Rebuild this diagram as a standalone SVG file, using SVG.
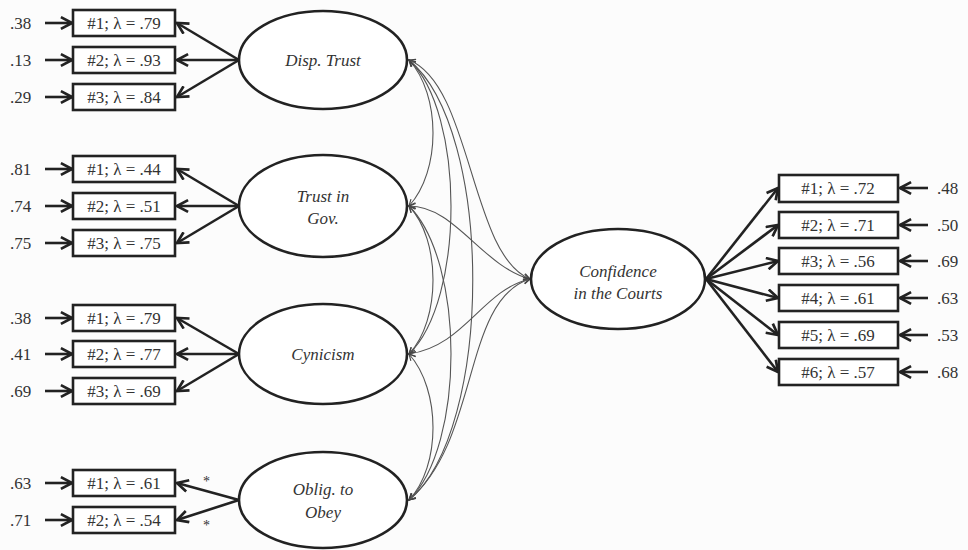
<svg xmlns="http://www.w3.org/2000/svg" width="968" height="550" viewBox="0 0 968 550">
<style>
.bg{fill:#fcfcfc}
.lat{fill:#fff;stroke:#222;stroke-width:2.6}
.box{fill:#fff;stroke:#222;stroke-width:2.6}
text{font-family:'Liberation Serif','Times New Roman','DejaVu Serif',serif}
.t{font-size:17px;fill:#333;text-anchor:middle}
.it{font-style:italic}
.e{font-size:17px;fill:#333}
.ar{stroke:#222;stroke-width:2.6;fill:none;marker-end:url(#ah)}
.cv{stroke:#555;stroke-width:1.1;fill:none;marker-start:url(#sh);marker-end:url(#sh)}
</style>
<defs>
<marker id="ah" viewBox="0 0 12 12" refX="10.5" refY="6" markerWidth="14" markerHeight="14" markerUnits="userSpaceOnUse" orient="auto">
<path d="M1,1 L10.5,6 L1,11" fill="none" stroke="#222" stroke-width="2.3"/>
</marker>
<marker id="sh" viewBox="0 0 10 10" refX="9" refY="5" markerWidth="8" markerHeight="8" markerUnits="userSpaceOnUse" orient="auto-start-reverse">
<path d="M1,1 L9,5 L1,9" fill="none" stroke="#444" stroke-width="1.4"/>
</marker>
</defs>
<rect class="bg" x="0" y="0" width="968" height="550"/>

<g id="connectors">
<path class="cv" d="M409,60 C441,95 441,171 409,206"/>
<path class="cv" d="M409,60 C465,112 465,300 409,354"/>
<path class="cv" d="M409,60 C494,130 494,430 409,500"/>
<path class="cv" d="M409,60 C472,85 470,255 530,279"/>
<path class="cv" d="M409,206 C441,240 441,320 409,354"/>
<path class="cv" d="M409,206 C465,262 465,446 409,500"/>
<path class="cv" d="M409,206 C455,206 482,266 530,279"/>
<path class="cv" d="M409,354 C465,346 482,290 530,279"/>
<path class="cv" d="M409,354 C441,390 441,466 409,500"/>
<path class="cv" d="M409,500 C480,440 462,300 530,279"/>
<line class="ar" x1="239" y1="60" x2="177" y2="23"/>
<line class="ar" x1="239" y1="60" x2="177" y2="60"/>
<line class="ar" x1="239" y1="60" x2="177" y2="97"/>
<line class="ar" x1="239" y1="206" x2="177" y2="169"/>
<line class="ar" x1="239" y1="206" x2="177" y2="206"/>
<line class="ar" x1="239" y1="206" x2="177" y2="243"/>
<line class="ar" x1="239" y1="354" x2="177" y2="318"/>
<line class="ar" x1="239" y1="354" x2="177" y2="354"/>
<line class="ar" x1="239" y1="354" x2="177" y2="391"/>
<line class="ar" x1="239" y1="500" x2="177" y2="483"/>
<line class="ar" x1="239" y1="500" x2="177" y2="520"/>
<line class="ar" x1="45" y1="23" x2="72" y2="23"/>
<line class="ar" x1="45" y1="60" x2="72" y2="60"/>
<line class="ar" x1="45" y1="97" x2="72" y2="97"/>
<line class="ar" x1="45" y1="169" x2="72" y2="169"/>
<line class="ar" x1="45" y1="206" x2="72" y2="206"/>
<line class="ar" x1="45" y1="243" x2="72" y2="243"/>
<line class="ar" x1="45" y1="318" x2="72" y2="318"/>
<line class="ar" x1="45" y1="354" x2="72" y2="354"/>
<line class="ar" x1="45" y1="391" x2="72" y2="391"/>
<line class="ar" x1="45" y1="483" x2="72" y2="483"/>
<line class="ar" x1="45" y1="520" x2="72" y2="520"/>
<line class="ar" x1="706" y1="279" x2="778" y2="188"/>
<line class="ar" x1="706" y1="279" x2="778" y2="225"/>
<line class="ar" x1="706" y1="279" x2="778" y2="261"/>
<line class="ar" x1="706" y1="279" x2="778" y2="298"/>
<line class="ar" x1="706" y1="279" x2="778" y2="335"/>
<line class="ar" x1="706" y1="279" x2="778" y2="372"/>
<line class="ar" x1="928" y1="188" x2="900" y2="188"/>
<line class="ar" x1="928" y1="225" x2="900" y2="225"/>
<line class="ar" x1="928" y1="261" x2="900" y2="261"/>
<line class="ar" x1="928" y1="298" x2="900" y2="298"/>
<line class="ar" x1="928" y1="335" x2="900" y2="335"/>
<line class="ar" x1="928" y1="372" x2="900" y2="372"/>
</g>

<g id="disp-trust">
<ellipse class="lat" cx="323" cy="60" rx="84" ry="49"/>
<text class="t it" x="323" y="66">Disp. Trust</text>
</g>
<g id="trust-gov">
<ellipse class="lat" cx="323" cy="206" rx="84" ry="51"/>
<text class="t it" x="323" y="202">Trust in</text>
<text class="t it" x="323" y="224">Gov.</text>
</g>
<g id="cynicism">
<ellipse class="lat" cx="323" cy="354" rx="84" ry="50"/>
<text class="t it" x="323" y="360">Cynicism</text>
</g>
<g id="oblig">
<ellipse class="lat" cx="323" cy="500" rx="84" ry="48"/>
<text class="t it" x="323" y="495">Oblig. to</text>
<text class="t it" x="323" y="518">Obey</text>
</g>
<g id="confidence">
<ellipse class="lat" cx="618" cy="279" rx="87" ry="50"/>
<text class="t it" x="618" y="277">Confidence</text>
<text class="t it" x="618" y="299">in the Courts</text>
</g>

<g id="dt-items">
<rect class="box" x="73" y="10" width="102" height="26"/><text class="t" x="124" y="29">#1; λ = .79</text>
<rect class="box" x="73" y="47" width="102" height="26"/><text class="t" x="124" y="66">#2; λ = .93</text>
<rect class="box" x="73" y="84" width="102" height="26"/><text class="t" x="124" y="103">#3; λ = .84</text>
<text class="e" x="10" y="29">.38</text><text class="e" x="10" y="66">.13</text><text class="e" x="10" y="103">.29</text>
</g>
<g id="tg-items">
<rect class="box" x="73" y="156" width="102" height="26"/><text class="t" x="124" y="175">#1; λ = .44</text>
<rect class="box" x="73" y="193" width="102" height="26"/><text class="t" x="124" y="212">#2; λ = .51</text>
<rect class="box" x="73" y="230" width="102" height="26"/><text class="t" x="124" y="249">#3; λ = .75</text>
<text class="e" x="10" y="175">.81</text><text class="e" x="10" y="212">.74</text><text class="e" x="10" y="249">.75</text>
</g>
<g id="cy-items">
<rect class="box" x="73" y="305" width="102" height="26"/><text class="t" x="124" y="324">#1; λ = .79</text>
<rect class="box" x="73" y="341" width="102" height="26"/><text class="t" x="124" y="360">#2; λ = .77</text>
<rect class="box" x="73" y="378" width="102" height="26"/><text class="t" x="124" y="397">#3; λ = .69</text>
<text class="e" x="10" y="324">.38</text><text class="e" x="10" y="360">.41</text><text class="e" x="10" y="397">.69</text>
</g>
<g id="ob-items">
<rect class="box" x="73" y="470" width="102" height="26"/><text class="t" x="124" y="489">#1; λ = .61</text>
<rect class="box" x="73" y="507" width="102" height="26"/><text class="t" x="124" y="526">#2; λ = .54</text>
<text class="e" x="10" y="489">.63</text><text class="e" x="10" y="526">.71</text>
<text class="e" x="203" y="486" style="font-size:14px">*</text>
<text class="e" x="203" y="530" style="font-size:14px">*</text>
</g>
<g id="cc-items">
<rect class="box" x="779" y="175" width="119" height="27"/><text class="t" x="838" y="194">#1; λ = .72</text>
<rect class="box" x="779" y="212" width="119" height="26"/><text class="t" x="838" y="231">#2; λ = .71</text>
<rect class="box" x="779" y="248" width="119" height="26"/><text class="t" x="838" y="267">#3; λ = .56</text>
<rect class="box" x="779" y="285" width="119" height="26"/><text class="t" x="838" y="304">#4; λ = .61</text>
<rect class="box" x="779" y="322" width="119" height="26"/><text class="t" x="838" y="341">#5; λ = .69</text>
<rect class="box" x="779" y="359" width="119" height="26"/><text class="t" x="838" y="378">#6; λ = .57</text>
<text class="e" x="937" y="194">.48</text><text class="e" x="937" y="231">.50</text><text class="e" x="937" y="267">.69</text>
<text class="e" x="937" y="304">.63</text><text class="e" x="937" y="341">.53</text><text class="e" x="937" y="378">.68</text>
</g>
</svg>
